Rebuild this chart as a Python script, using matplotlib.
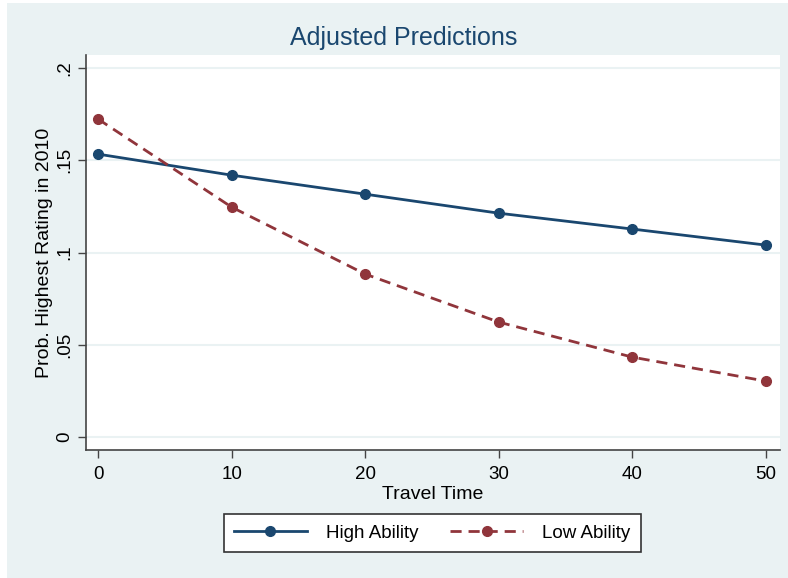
import matplotlib.pyplot as plt
from matplotlib.patches import Rectangle

plt.rcParams['font.family'] = ['Liberation Sans', 'DejaVu Sans']

travel_time = [0, 10, 20, 30, 40, 50]
high_ability = [0.1533, 0.1419, 0.1316, 0.1213, 0.1127, 0.1040]
low_ability = [0.1723, 0.1246, 0.0883, 0.0623, 0.0433, 0.0303]
yticks = [0, 0.05, 0.1, 0.15, 0.2]
ytick_labels = ['0', '.05', '.1', '.15', '.2']

navy = '#1A476F'
maroon = '#90353B'
bg = '#EAF2F3'

fig = plt.figure(figsize=(7.88, 5.78), dpi=100)
fig.patch.set_facecolor('white')
fig.patches.append(Rectangle((7 / 788, 0.0), 1 - 7 / 788, 1 - 3 / 578,
                             transform=fig.transFigure, facecolor=bg,
                             edgecolor='none', zorder=-10))

ax = fig.add_axes([86 / 788, 1 - 450 / 578, 694 / 788, 395 / 578])
ax.set_facecolor('white')

ax.plot(travel_time, high_ability, color=navy, lw=2, marker='o', ms=7,
        label='High Ability')
ax.plot(travel_time, low_ability, color=maroon, lw=2, marker='o', ms=7,
        ls=(0, (4, 2.5)), label='Low Ability')

ax.set_xlim(-0.9, 51.05)
ax.set_ylim(-0.007, 0.207)
ax.set_xticks(travel_time)
ax.set_yticks(yticks)
ax.set_yticklabels(ytick_labels, rotation=90, va='center')
ax.grid(axis='y', color=bg, lw=1.5)
ax.set_axisbelow(True)

for s in ['top', 'right']:
    ax.spines[s].set_visible(False)
for s in ['left', 'bottom']:
    ax.spines[s].set_color('#444444')
    ax.spines[s].set_linewidth(1.2)
ax.tick_params(direction='out', length=5.5, width=1, color='#444444',
               labelsize=13.5)
ax.tick_params(axis='x', pad=6)
ax.tick_params(axis='y', pad=4)

ax.set_xlabel('Travel Time', fontsize=14, labelpad=2)
ax.set_ylabel('Prob. Highest Rating in 2010', fontsize=14, labelpad=2)
fig.text(404 / 788, 1 - 38 / 578, 'Adjusted Predictions', fontsize=18,
         color=navy, ha='center', va='center')

leg = fig.legend(loc='center', bbox_to_anchor=(432 / 788, 1 - 533 / 578),
                 ncol=2, fontsize=13.5, fancybox=False, edgecolor='#333333',
                 framealpha=1, handlelength=3.9, columnspacing=1.7,
                 handletextpad=1.0, borderpad=0.55)
leg.get_frame().set_linewidth(1.2)

fig.savefig('out.png', dpi=100, facecolor=fig.get_facecolor())
